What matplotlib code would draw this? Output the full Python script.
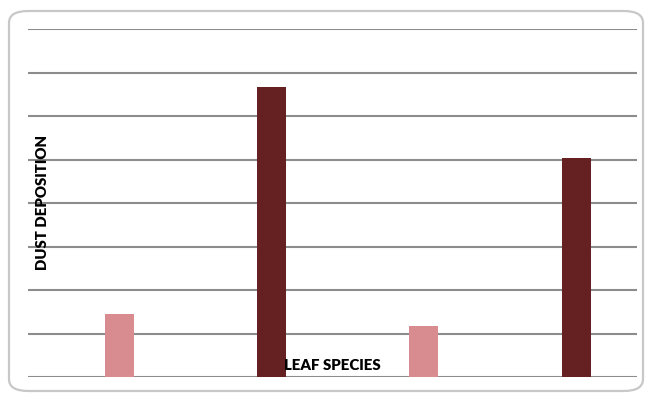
import matplotlib.pyplot as plt
from matplotlib.patches import FancyBboxPatch

# dust deposition per leaf species (chart units, grid step = 1)
species = ["A", "B", "C", "D"]
dust = [1.45, 6.67, 1.17, 5.03]
colors = ["#d98c8f", "#652121", "#d98c8f", "#652121"]

plt.rcParams['font.family'] = ['Lato', 'DejaVu Sans']

fig = plt.figure(figsize=(6.46, 3.94), dpi=100)

# rounded chart-area border
frame = FancyBboxPatch((9 / 646, 3 / 394), 634 / 646, 380 / 394,
                       boxstyle="round,pad=0,rounding_size=0.03",
                       transform=fig.transFigure, facecolor="white",
                       edgecolor="#c8c8c8", linewidth=1.6, zorder=0)
fig.patches.append(frame)

ax = fig.add_axes([28 / 646, 17 / 394, 609 / 646, 348 / 394])
ax.set_zorder(2)
ax.set_facecolor("none")

x = range(len(species))
ax.bar(x, dust, width=0.19, color=colors, zorder=3)

ax.set_xlim(-0.6, 3.4)
ax.set_ylim(0, 8)
ax.set_yticks(range(0, 9))
ax.set_xticks([])
ax.set_yticklabels([])
ax.tick_params(axis='y', length=0)
ax.grid(axis='y', color="#8c8c8c", linewidth=1.5, zorder=1)
for s in ax.spines.values():
    s.set_visible(False)

fig.text(43 / 646, 1 - 203 / 394, "DUST DEPOSITION", rotation=90,
         ha='center', va='center', fontsize=10.8, fontweight='heavy', zorder=5)
fig.text(332 / 646, 1 - 365 / 394, "LEAF SPECIES",
         ha='center', va='center', fontsize=10.8, fontweight='heavy', zorder=5)

fig.savefig("out.png", dpi=100)
